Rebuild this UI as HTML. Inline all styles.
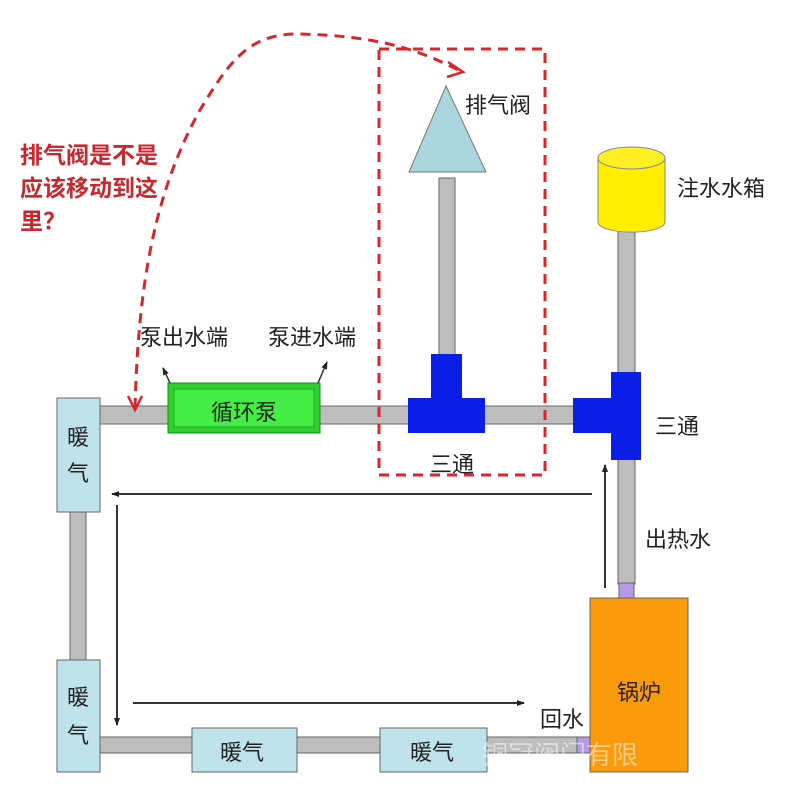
<!DOCTYPE html>
<html><head><meta charset="utf-8"><style>
html,body{margin:0;padding:0;background:#fff}
svg{display:block}
text{font-family:"Liberation Sans","Noto Sans CJK SC",sans-serif;fill:#222}
</style></head><body>
<svg width="800" height="800" viewBox="0 0 800 800" xmlns="http://www.w3.org/2000/svg">
<defs>
<marker id="ah" markerWidth="8" markerHeight="8" refX="7" refY="4" orient="auto" markerUnits="userSpaceOnUse"><path d="M0,1 L8,4 L0,7 Z" fill="#222"/></marker>
</defs>
<g stroke="#666" stroke-width="1">
<rect x="100" y="406" width="520" height="18" fill="#bdbdbd"/>
<rect x="70" y="512" width="16" height="148" fill="#bdbdbd"/>
<rect x="100" y="737" width="480" height="16" fill="#bdbdbd"/>
<rect x="439" y="178" width="16" height="178" fill="#bdbdbd"/>
<rect x="618" y="230" width="17" height="143" fill="#bdbdbd"/>
<rect x="618" y="459" width="17" height="125" fill="#bdbdbd"/>
<rect x="619" y="583" width="15" height="15" fill="#b79ae8"/>
<rect x="577" y="737" width="13" height="16" fill="#b79ae8"/>
<rect x="57" y="398" width="43" height="114" fill="#bfe3ea"/>
<rect x="57" y="660" width="43" height="112" fill="#bfe3ea"/>
<rect x="192" y="728" width="105" height="44" fill="#bfe3ea"/>
<rect x="380" y="728" width="107" height="44" fill="#bfe3ea"/>
<rect x="590" y="598" width="98" height="174" fill="#fb9a0a"/>
</g>
<rect x="168" y="383" width="152" height="50" fill="#2ecf2e" stroke="#1a8a1a"/>
<rect x="174" y="389" width="140" height="38" fill="#44ee44" stroke="#22aa22"/>
<path d="M431,354 H462 V398 H485 V433 H408 V398 H431 Z" fill="#0a1ee6"/>
<path d="M611,372 H641 V460 H611 V433 H573 V398 H611 Z" fill="#0a1ee6"/>
<path d="M446,86 L486,172 L409,172 Z" fill="#abd6de" stroke="#777"/>
<path d="M598,158 V222 A33,10 0 0 0 665,222 V158" fill="#ffee00" stroke="#888"/>
<ellipse cx="631.5" cy="158" rx="33.5" ry="11" fill="#ffee22" stroke="#888"/>
<rect x="379" y="49" width="166" height="426" fill="none" stroke="#d9262b" stroke-width="3" stroke-dasharray="10,7"/>
<path d="M135,408 C138,300 150,200 200,110 C230,60 250,33 300,34 C380,36 420,50 462,72" fill="none" stroke="#d9262b" stroke-width="3" stroke-dasharray="10,7"/>
<path d="M128,396 L135,410 L142,396" fill="none" stroke="#d9262b" stroke-width="2.5"/>
<path d="M448,62 L463,72 L447,77" fill="none" stroke="#d9262b" stroke-width="2.5"/>
<g stroke="#333" stroke-width="2" fill="none">
<line x1="592" y1="494" x2="112" y2="494" marker-end="url(#ah)"/>
<line x1="117" y1="505" x2="117" y2="725" marker-end="url(#ah)"/>
<line x1="133" y1="703" x2="524" y2="703" marker-end="url(#ah)"/>
<line x1="605" y1="588" x2="605" y2="465" marker-end="url(#ah)"/>
<line x1="170" y1="383" x2="163" y2="368" stroke-width="1.5" marker-end="url(#ah)"/>
<line x1="318" y1="383" x2="327" y2="362" stroke-width="1.5" marker-end="url(#ah)"/>
</g>
<g font-size="23" font-weight="bold">
<text x="20" y="163" style="fill:#c8282d">排气阀是不是</text>
<text x="20" y="196" style="fill:#c8282d">应该移动到这</text>
<text x="20" y="229" style="fill:#c8282d">里？</text>
</g>
<g font-size="22">
<text x="465" y="113">排气阀</text>
<text x="677" y="196">注水水箱</text>
<text x="140" y="345">泵出水端</text>
<text x="268" y="345">泵进水端</text>
<text x="211" y="420">循环泵</text>
<text x="430" y="472">三通</text>
<text x="655" y="434">三通</text>
<text x="645" y="547">出热水</text>
<text x="540" y="727">回水</text>
<text x="617" y="700">锅炉</text>
<text x="67" y="445">暖</text>
<text x="67" y="481">气</text>
<text x="67" y="705">暖</text>
<text x="67" y="743">气</text>
<text x="220" y="760">暖气</text>
<text x="410" y="760">暖气</text>
</g>
<text x="482" y="764" font-size="26" style="fill:#fff;opacity:0.5">铜冠阀门有限</text>
</svg>
</body></html>
